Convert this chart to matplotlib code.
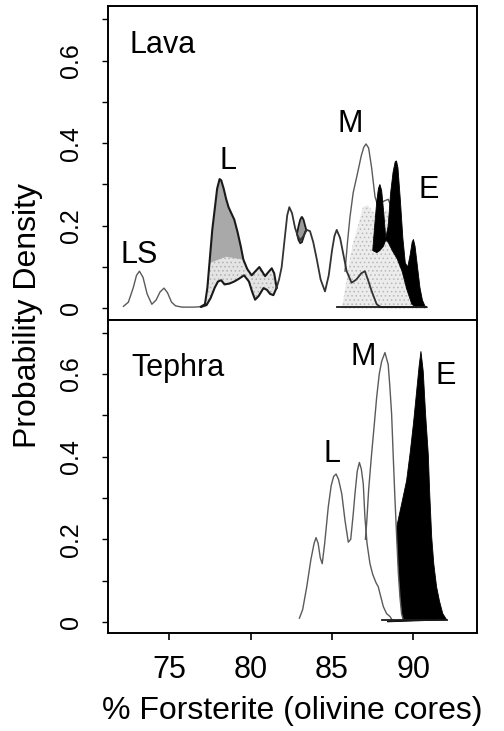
import numpy as np
import matplotlib
matplotlib.use("Agg")
import matplotlib.pyplot as plt

plt.rcParams['font.family'] = ['Liberation Sans', 'DejaVu Sans']
plt.rcParams['hatch.linewidth'] = 0.6

# ---- Lava panel ----
# LS population (thin line)
lava_ls_x = [72.2, 72.5, 72.8, 73.0, 73.18, 73.4, 73.65, 73.94, 74.2, 74.45, 74.69, 74.9, 75.15, 75.4, 75.8, 76.5, 76.95]
lava_ls_y = [0.005, 0.015, 0.05, 0.08, 0.09, 0.075, 0.035, 0.01, 0.02, 0.04, 0.049, 0.038, 0.015, 0.006, 0.003, 0.003, 0.004]

# L population, upper and lower outlines
lava_Lup_x = [76.95, 77.2, 77.35, 77.5, 77.65, 77.8, 77.95, 78.1, 78.2, 78.35, 78.5, 78.65, 78.8, 79.0, 79.2, 79.4,
              79.56, 79.8, 80.07, 80.3, 80.54, 80.7, 80.89, 81.1, 81.3, 81.45, 81.6]
lava_Lup_y = [0.004, 0.01, 0.05, 0.12, 0.19, 0.24, 0.29, 0.313, 0.31, 0.29, 0.265, 0.245, 0.232, 0.215, 0.185, 0.15,
              0.118, 0.095, 0.08, 0.09, 0.10, 0.09, 0.078, 0.088, 0.097, 0.085, 0.05]
lava_Llo_x = [77.0, 77.3, 77.55, 77.8, 78.0, 78.2, 78.4, 78.7, 79.0, 79.3, 79.6, 79.9, 80.1, 80.28, 80.5, 80.79, 81.0,
              81.2, 81.4, 81.6]
lava_Llo_y = [0.004, 0.008, 0.025, 0.05, 0.065, 0.068, 0.058, 0.06, 0.065, 0.072, 0.08, 0.065, 0.04, 0.021, 0.03,
              0.049, 0.045, 0.035, 0.032, 0.05]
# lower edge of the dark shaded part of L
lava_Lmid_x = [77.5, 78.5, 79.56]
lava_Lmid_y = [0.11, 0.125, 0.118]

# continuation line 81.6 -> 90.8
lava_C_x = [81.6, 81.75, 81.91, 82.1, 82.25, 82.38, 82.55, 82.73, 82.9, 83.05, 83.25, 83.45, 83.65, 83.85, 84.06,
            84.3, 84.57, 84.8, 85.0, 85.15, 85.29, 85.5, 85.7, 85.9, 86.2, 86.5, 86.8, 87.02, 87.2, 87.45, 87.74,
            88.0, 90.8]
lava_C_y = [0.05, 0.07, 0.10, 0.17, 0.225, 0.245, 0.23, 0.195, 0.175, 0.165, 0.175, 0.19, 0.187, 0.16, 0.12, 0.07,
            0.041, 0.08, 0.14, 0.175, 0.19, 0.17, 0.13, 0.09, 0.062, 0.07, 0.085, 0.09, 0.07, 0.04, 0.01, 0.003, 0.003]
lava_base_x = [85.3, 90.8]
lava_base_y = [0.003, 0.003]

# small shaded blob near 83
lava_blob_x = [82.85, 82.95, 83.05, 83.15, 83.25, 83.35, 83.42, 83.35, 83.25, 83.15, 83.05, 82.95, 82.85]
lava_blob_y = [0.18, 0.2, 0.215, 0.222, 0.215, 0.2, 0.19, 0.185, 0.172, 0.16, 0.158, 0.165, 0.18]

# M population
lava_M_x = [85.8, 85.95, 86.1, 86.3, 86.51, 86.8, 86.95, 87.09, 87.25, 87.43, 87.64, 87.8, 88.0, 88.2, 88.45, 88.7,
            88.95, 89.2, 89.5, 89.8, 90.1, 90.4, 90.65]
lava_M_y = [0.09, 0.16, 0.22, 0.28, 0.317, 0.37, 0.39, 0.398, 0.388, 0.341, 0.27, 0.25, 0.255, 0.26, 0.264, 0.24,
            0.2, 0.15, 0.1, 0.06, 0.03, 0.01, 0.002]
lava_Mfill_x = [85.6, 85.9, 86.1, 86.3, 86.6, 86.9, 87.2, 87.5, 87.8, 88.1, 88.4, 88.7, 89.0, 89.3, 89.6, 89.9, 90.2,
                90.5, 90.8]
lava_Mfill_y = [0.0, 0.07, 0.12, 0.16, 0.2, 0.245, 0.25, 0.235, 0.22, 0.23, 0.24, 0.2, 0.16, 0.12, 0.09, 0.06, 0.035,
                0.012, 0.0]

# E population (black)
lava_E_x = [87.5, 87.62, 87.75, 87.85, 87.94, 88.05, 88.18, 88.3, 88.45, 88.6, 88.75, 88.88, 88.96, 89.05, 89.2,
            89.35, 89.5, 89.65, 89.8, 89.92, 90.0, 90.1, 90.25, 90.4, 90.55, 90.7, 90.85]
lava_E_y = [0.14, 0.2, 0.26, 0.29, 0.30, 0.285, 0.23, 0.17, 0.2, 0.28, 0.33, 0.355, 0.357, 0.34, 0.26, 0.17, 0.11,
            0.1, 0.13, 0.16, 0.167, 0.15, 0.1, 0.05, 0.02, 0.006, 0.002]
lava_Ebase_x = [87.5, 87.75, 87.94, 88.15, 88.3, 88.45, 88.7, 89.0, 89.3, 89.6, 89.9, 90.2, 90.85]
lava_Ebase_y = [0.14, 0.135, 0.14, 0.15, 0.165, 0.16, 0.14, 0.12, 0.09, 0.045, 0.01, 0.002, 0.002]

# ---- Tephra panel ----
teph_L_x = [83.0, 83.2, 83.45, 83.7, 83.9, 84.02, 84.15, 84.28, 84.4, 84.55, 84.77, 84.95, 85.1, 85.25, 85.4, 85.6,
            85.8, 86.0, 86.15, 86.3, 86.41, 86.55, 86.68, 86.8, 86.92, 87.02, 87.15, 87.33, 87.5, 87.7, 87.84, 88.0,
            88.15, 88.35, 88.56, 88.7]
teph_L_y = [0.009, 0.03, 0.085, 0.15, 0.19, 0.204, 0.19, 0.155, 0.141, 0.19, 0.278, 0.33, 0.352, 0.358, 0.345, 0.31,
            0.245, 0.193, 0.2, 0.26, 0.31, 0.365, 0.386, 0.37, 0.334, 0.254, 0.19, 0.141, 0.115, 0.095, 0.085, 0.06,
            0.037, 0.02, 0.013, 0.004]
teph_M_x = [87.05, 87.13, 87.25, 87.43, 87.6, 87.74, 87.9, 88.05, 88.25, 88.45, 88.55, 88.66, 88.76, 88.86, 88.97,
            89.07, 89.17, 89.27, 89.37]
teph_M_y = [0.2, 0.24, 0.32, 0.406, 0.48, 0.543, 0.6, 0.631, 0.652, 0.623, 0.57, 0.503, 0.4, 0.302, 0.205, 0.12,
            0.061, 0.02, 0.005]
teph_E_x = [88.4, 88.6, 88.85, 89.0, 89.3, 89.58, 89.8, 90.0, 90.2, 90.35, 90.46, 90.6, 90.75, 90.91, 91.0, 91.12,
            91.25, 91.42, 91.6, 91.8, 92.04]
teph_E_y = [0.0, 0.09, 0.19, 0.235, 0.29, 0.342, 0.41, 0.48, 0.56, 0.62, 0.655, 0.607, 0.5, 0.406, 0.31, 0.206,
            0.14, 0.085, 0.05, 0.02, 0.005]
teph_base_x = [88.05, 92.04]
teph_base_y = [0.004, 0.004]

xticks = [75, 80, 85, 90]
yticks = [0, 0.2, 0.4, 0.6]
ytick_labels = ['0', '0.2', '0.4', '0.6']
yminor = [0.1, 0.3, 0.5, 0.7]

thin = '#5a5a5a'
dark = '#1a1a1a'

fig, (ax1, ax2) = plt.subplots(2, 1, figsize=(5.04, 7.31), dpi=100, sharex=True)
fig.subplots_adjust(left=0.2143, right=0.9464, top=0.9918, bottom=0.134, hspace=0)

# ---------- top: Lava ----------
ax = ax1
# light dotted under L
ax.fill(np.r_[lava_Lup_x, lava_Llo_x[::-1]], np.r_[lava_Lup_y, lava_Llo_y[::-1]],
        facecolor='#e4e4e4', hatch='....', edgecolor='#b0b0b0', linewidth=0, zorder=1)
# darker shaded top of L
up = np.array(lava_Lup_x)
sel = (up >= 77.5) & (up <= 79.56)
ax.fill(np.r_[up[sel], lava_Lmid_x[::-1]], np.r_[np.array(lava_Lup_y)[sel], lava_Lmid_y[::-1]],
        facecolor='#a9a9a9', edgecolor='none', zorder=2)
# M dotted fill
ax.fill(lava_Mfill_x, lava_Mfill_y, facecolor='#ececec', hatch='....', edgecolor='#b8b8b8', linewidth=0, zorder=1)
# E black
ax.fill(np.r_[lava_E_x, lava_Ebase_x[::-1]], np.r_[lava_E_y, lava_Ebase_y[::-1]],
        facecolor='black', edgecolor='black', linewidth=0.6, zorder=3)
# blob
ax.fill(lava_blob_x, lava_blob_y, facecolor='#9a9a9a', edgecolor=dark, linewidth=1.3, zorder=4)

ax.plot(lava_ls_x, lava_ls_y, color=thin, lw=1.0, zorder=5)
ax.plot(lava_Lup_x, lava_Lup_y, color=dark, lw=1.5, zorder=5)
ax.plot(lava_Llo_x, lava_Llo_y, color=dark, lw=1.5, zorder=5)
ax.plot(lava_C_x, lava_C_y, color='#333333', lw=1.3, zorder=5)
ax.plot(lava_base_x, lava_base_y, color=dark, lw=1.3, zorder=5)
ax.plot(lava_M_x, lava_M_y, color=thin, lw=1.0, zorder=2.5)

ax.text(72.6, 0.617, 'Lava', fontsize=22)
ax.text(73.17, 0.11, 'LS', fontsize=22, ha='center')
ax.text(78.6, 0.337, 'L', fontsize=22, ha='center')
ax.text(86.1, 0.426, 'M', fontsize=22, ha='center')
ax.text(90.96, 0.268, 'E', fontsize=22, ha='center')

# ---------- bottom: Tephra ----------
ax = ax2
ax.fill(teph_E_x, teph_E_y, facecolor='black', edgecolor='black', linewidth=0.6, zorder=1)
ax.fill(np.r_[teph_M_x, teph_M_x[0]], np.r_[teph_M_y, 0], facecolor='white', edgecolor='none', zorder=2)
ax.fill(np.r_[teph_L_x, teph_L_x[0]], np.r_[teph_L_y, 0], facecolor='white', edgecolor='none', zorder=2)
ax.plot(teph_L_x, teph_L_y, color=thin, lw=1.0, zorder=3)
ax.plot(teph_M_x, teph_M_y, color=thin, lw=1.0, zorder=3)
ax.plot(teph_base_x, teph_base_y, color=dark, lw=1.3, zorder=3)

ax.text(72.7, 0.595, 'Tephra', fontsize=22)
ax.text(85.0, 0.386, 'L', fontsize=22, ha='center')
ax.text(86.9, 0.623, 'M', fontsize=22, ha='center')
ax.text(92.0, 0.575, 'E', fontsize=22, ha='center')

for a in (ax1, ax2):
    a.set_xlim(71.25, 93.9)
    a.set_ylim(-0.027, 0.732)
    a.set_yticks(yticks, ytick_labels)
    a.set_yticks(yminor, minor=True)
    a.set_xticks(xticks)
    a.tick_params(axis='y', which='both', direction='out', length=4, width=1.0, labelsize=18, pad=14)
    for lab in a.get_yticklabels():
        lab.set_rotation(90)
        lab.set_va('center')
    for s in a.spines.values():
        s.set_linewidth(1.4)

ax1.tick_params(axis='x', direction='out', length=10, width=1.2, labelbottom=False)
ax2.tick_params(axis='x', direction='out', length=5, width=1.2, labelsize=22, pad=11)
ax2.set_xlabel('% Forsterite (olivine cores)', fontsize=23, labelpad=8)

fig.text(0.056, 1 - 315 / 731, 'Probability Density', rotation=90, va='center', ha='center', fontsize=23)

fig.savefig('out.png', dpi=100)
